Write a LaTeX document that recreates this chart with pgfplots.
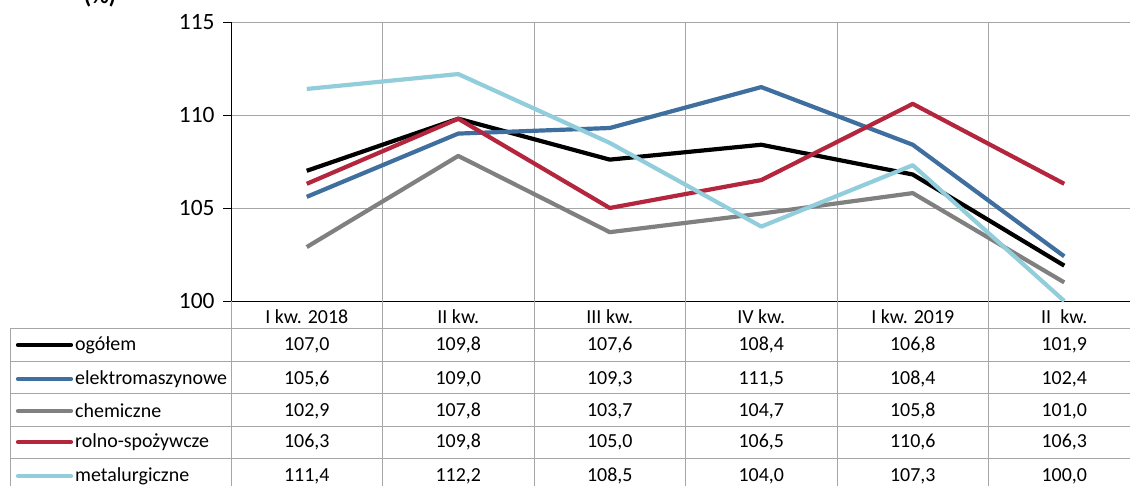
\documentclass[border=0pt]{standalone}
\usepackage{fontspec}
\setmainfont{Carlito}
\usepackage{pgfplots}
\pgfplotsset{compat=1.18}
\usepackage{pgfplotstable}
\definecolor{cblue}{HTML}{3F6F9E}
\definecolor{cgray}{HTML}{808080}
\definecolor{cred}{HTML}{B3263E}
\definecolor{clight}{HTML}{92CDDC}
\definecolor{gridc}{HTML}{A6A6A6}

\pgfplotstableread{
x ogolem elektro chem rolno metal
0 107.0 105.6 102.9 106.3 111.4
1 109.8 109.0 107.8 109.8 112.2
2 107.6 109.3 103.7 105.0 108.5
3 108.4 111.5 104.7 106.5 104.0
4 106.8 108.4 105.8 110.6 107.3
5 101.9 102.4 101.0 106.3 100.0
}\data

\newcommand\trow[9]{%
  \draw[#2, line width=4.2bp, line cap=round] (18,#1) -- (71,#1);
  \node[anchor=west] at (75,#1) {#3};
  \node at (306.75,#1) {#4};
  \node at (458.25,#1) {#5};
  \node at (609.75,#1) {#6};
  \node at (761.25,#1) {#7};
  \node at (912.75,#1) {#8};
  \node at (1064.25,#1) {#9};
}

\begin{document}
\begin{tikzpicture}[x=1bp,y=1bp]
\useasboundingbox (0,0) rectangle (1130,486);
\clip (0,0) rectangle (1130,486);
\node[anchor=base, font=\bfseries\fontsize{24}{28}\selectfont] at (100,482) {(\%)};
\begin{axis}[
  at={(231bp,185bp)}, anchor=south west,
  scale only axis, width=909bp, height=279bp,
  xmin=-0.5, xmax=5.5, ymin=100, ymax=115,
  ytick={100,105,110,115},
  xtick={0.5,1.5,2.5,3.5,4.5,5.5}, xticklabels={},
  xmajorgrids, ymajorgrids,
  grid style={draw=gridc, line width=0.8bp},
  axis x line*=bottom, axis y line*=left,
  axis line style={black, line width=0.9bp},
  xtick style={draw=none},
  ytick style={black, line width=0.8bp},
  tick align=outside, major tick length=8bp,
  /pgf/number format/assume math mode=true,
  yticklabel style={font=\fontsize{23.5}{28}\selectfont, xshift=-5bp},
  clip=false,
  every axis plot/.append style={line width=4.2bp, no marks, line join=round},
]
\addplot[black] table[x=x,y=ogolem]{\data};
\addplot[cblue] table[x=x,y=elektro]{\data};
\addplot[cgray] table[x=x,y=chem]{\data};
\addplot[cred] table[x=x,y=rolno]{\data};
\addplot[clight] table[x=x,y=metal]{\data};
\end{axis}
% table grid
\foreach \xx in {231,382.5,534,685.5,837,988.5}{
  \draw[gridc, line width=0.8bp] (\xx,0) -- (\xx,185);
}
\foreach \yy in {158,125,93,60,28}{
  \draw[gridc, line width=0.8bp] (10,\yy) -- (1130,\yy);
}
\draw[gridc, line width=0.8bp] (10,0) -- (10,158);
\begin{scope}[every node/.style={font=\fontsize{20}{24}\selectfont, anchor=center, inner sep=0pt}]
\node at (306.75,169) {I kw. 2018};
\node at (458.25,169) {II kw.};
\node at (609.75,169) {III kw.};
\node at (761.25,169) {IV kw.};
\node at (912.75,169) {I kw. 2019};
\node at (1064.25,169) {II\ \ kw.};
\trow{141}{black}{ogółem}{107,0}{109,8}{107,6}{108,4}{106,8}{101,9}
\trow{107}{cblue}{elektromaszynowe}{105,6}{109,0}{109,3}{111,5}{108,4}{102,4}
\trow{75}{cgray}{chemiczne}{102,9}{107,8}{103,7}{104,7}{105,8}{101,0}
\trow{44}{cred}{rolno-spożywcze}{106,3}{109,8}{105,0}{106,5}{110,6}{106,3}
\trow{10}{clight}{metalurgiczne}{111,4}{112,2}{108,5}{104,0}{107,3}{100,0}
\end{scope}
\end{tikzpicture}
\end{document}
